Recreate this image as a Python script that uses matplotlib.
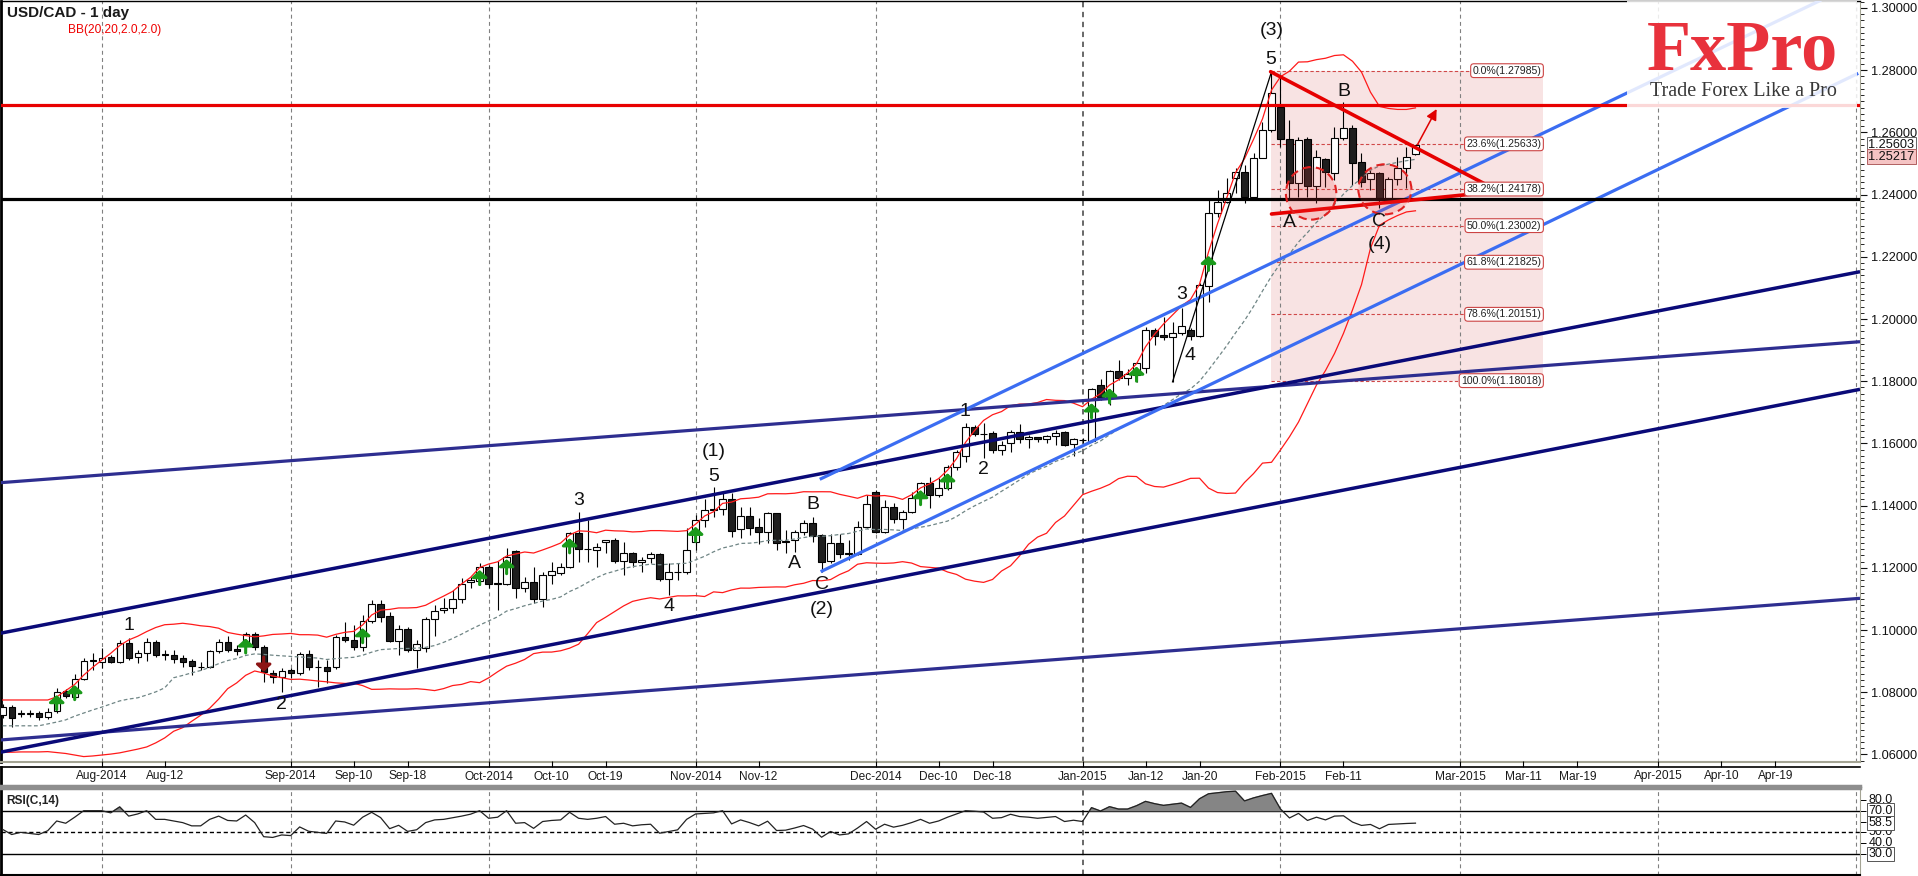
import numpy as np
import pandas as pd
import matplotlib
matplotlib.use("Agg")
import matplotlib.pyplot as plt
import matplotlib.transforms as mtransforms
from matplotlib.patches import Rectangle, Ellipse
from matplotlib.ticker import FormatStrFormatter, FixedLocator

plt.rcParams['font.family'] = ['Liberation Sans', 'DejaVu Sans']

# ---- data (daily bars, first bar 17 Jul 2014) ----
first_day = '2014-07-17'

opens = [1.0727, 1.0753, 1.0732, 1.0731, 1.0732, 1.0721, 1.0741, 1.0804, 1.0785, 1.0844,
         1.0902, 1.0898, 1.0914, 1.0898, 1.0957, 1.0912, 1.0925, 1.0962, 1.0922, 1.0920,
         1.0909, 1.0900, 1.0882, 1.0882, 1.0931, 1.0962, 1.0938, 1.0957, 1.0986, 1.0945,
         1.0861, 1.0850, 1.0871, 1.0861, 1.0922, 1.0882, 1.0880, 1.0880, 1.0976, 1.0968,
         1.0945, 1.1030, 1.1083, 1.1045, 1.0965, 1.1002, 1.0936, 1.0942, 1.1035, 1.1065,
         1.1070, 1.1099, 1.1154, 1.1156, 1.1202, 1.1150, 1.1149, 1.1254, 1.1136, 1.1153,
         1.1099, 1.1177, 1.1184, 1.1202, 1.1311, 1.1260, 1.1257, 1.1282, 1.1289, 1.1223,
         1.1247, 1.1218, 1.1231, 1.1244, 1.1163, 1.1187, 1.1187, 1.1282, 1.1354, 1.1388,
         1.1388, 1.1420, 1.1324, 1.1367, 1.1330, 1.1314, 1.1375, 1.1287, 1.1289, 1.1314,
         1.1343, 1.1304, 1.1223, 1.1281, 1.1247, 1.1246, 1.1332, 1.1445, 1.1314, 1.1395,
         1.1358, 1.1380, 1.1423, 1.1474, 1.1433, 1.1458, 1.1523, 1.1559, 1.1652, 1.1631,
         1.1634, 1.1580, 1.1602, 1.1636, 1.1613, 1.1619, 1.1614, 1.1625, 1.1637, 1.1597,
         1.1611, 1.1609, 1.1787, 1.1750, 1.1833, 1.1811, 1.1819, 1.1844, 1.1964, 1.1948,
         1.1941, 1.1956, 1.1964, 1.1946, 1.2107, 1.2340, 1.2377, 1.2452, 1.2474, 1.2391,
         1.2519, 1.2608, 1.2683, 1.2578, 1.2436, 1.2578, 1.2429, 1.2515, 1.2471, 1.2581,
         1.2613, 1.2504, 1.2449, 1.2470, 1.2388, 1.2449, 1.2485, 1.2530]
highs = [1.0762, 1.0759, 1.0743, 1.0743, 1.0740, 1.0749, 1.0814, 1.0811, 1.0858, 1.0909,
         1.0926, 1.0942, 1.0920, 1.0968, 1.0974, 1.0936, 1.0974, 1.0968, 1.0936, 1.0936,
         1.0920, 1.0907, 1.0897, 1.0936, 1.0971, 1.0981, 1.0952, 1.0993, 1.0993, 1.0952,
         1.0871, 1.0877, 1.0877, 1.0929, 1.0936, 1.0903, 1.0903, 1.0984, 1.1026, 1.1016,
         1.1048, 1.1097, 1.1097, 1.1058, 1.1016, 1.1009, 1.0968, 1.1042, 1.1080, 1.1103,
         1.1129, 1.1167, 1.1171, 1.1216, 1.1210, 1.1222, 1.1264, 1.1257, 1.1171, 1.1204,
         1.1187, 1.1219, 1.1215, 1.1316, 1.1380, 1.1354, 1.1279, 1.1290, 1.1295, 1.1284,
         1.1252, 1.1236, 1.1252, 1.1248, 1.1216, 1.1215, 1.1327, 1.1370, 1.1420, 1.1461,
         1.1439, 1.1441, 1.1396, 1.1396, 1.1359, 1.1380, 1.1377, 1.1321, 1.1321, 1.1354,
         1.1364, 1.1309, 1.1309, 1.1309, 1.1289, 1.1350, 1.1434, 1.1450, 1.1418, 1.1407,
         1.1386, 1.1445, 1.1477, 1.1493, 1.1488, 1.1530, 1.1579, 1.1665, 1.1660, 1.1665,
         1.1641, 1.1608, 1.1643, 1.1661, 1.1627, 1.1621, 1.1627, 1.1643, 1.1641, 1.1616,
         1.1616, 1.1777, 1.1806, 1.1836, 1.1868, 1.1838, 1.1862, 1.1975, 1.1970, 1.2007,
         1.1991, 1.2034, 1.1970, 1.2115, 1.2383, 1.2415, 1.2453, 1.2486, 1.2495, 1.2533,
         1.2634, 1.2795, 1.2785, 1.2640, 1.2586, 1.2586, 1.2543, 1.2517, 1.2618, 1.2699,
         1.2624, 1.2533, 1.2479, 1.2474, 1.2457, 1.2522, 1.2554, 1.2560]
lows = [1.0717, 1.0688, 1.0721, 1.0720, 1.0710, 1.0713, 1.0732, 1.0782, 1.0778, 1.0839,
        1.0871, 1.0877, 1.0893, 1.0893, 1.0903, 1.0893, 1.0900, 1.0913, 1.0903, 1.0893,
        1.0881, 1.0855, 1.0871, 1.0877, 1.0926, 1.0929, 1.0920, 1.0942, 1.0936, 1.0833,
        1.0829, 1.0800, 1.0845, 1.0855, 1.0871, 1.0816, 1.0829, 1.0874, 1.0961, 1.0936,
        1.0932, 1.1023, 1.1026, 1.0961, 1.0920, 1.0929, 1.0877, 1.0929, 1.0981, 1.1055,
        1.1055, 1.1087, 1.1135, 1.1145, 1.1135, 1.1064, 1.1145, 1.1103, 1.1123, 1.1087,
        1.1075, 1.1149, 1.1177, 1.1199, 1.1220, 1.1220, 1.1204, 1.1247, 1.1215, 1.1177,
        1.1204, 1.1187, 1.1217, 1.1158, 1.1111, 1.1161, 1.1180, 1.1257, 1.1332, 1.1364,
        1.1370, 1.1300, 1.1295, 1.1305, 1.1277, 1.1279, 1.1257, 1.1247, 1.1252, 1.1305,
        1.1284, 1.1188, 1.1215, 1.1230, 1.1225, 1.1241, 1.1327, 1.1311, 1.1311, 1.1343,
        1.1325, 1.1376, 1.1418, 1.1391, 1.1429, 1.1450, 1.1516, 1.1541, 1.1624, 1.1553,
        1.1568, 1.1563, 1.1573, 1.1600, 1.1584, 1.1605, 1.1600, 1.1595, 1.1592, 1.1559,
        1.1600, 1.1605, 1.1740, 1.1723, 1.1804, 1.1788, 1.1798, 1.1825, 1.1917, 1.1933,
        1.1798, 1.1949, 1.1933, 1.1943, 1.2056, 1.2329, 1.2373, 1.2405, 1.2373, 1.2388,
        1.2517, 1.2602, 1.2554, 1.2383, 1.2393, 1.2393, 1.2372, 1.2426, 1.2447, 1.2576,
        1.2431, 1.2426, 1.2415, 1.2356, 1.2372, 1.2431, 1.2420, 1.2527]
closes = [1.0753, 1.0716, 1.0731, 1.0732, 1.0721, 1.0737, 1.0801, 1.0788, 1.0844, 1.0901,
          1.0900, 1.0909, 1.0898, 1.0957, 1.0909, 1.0925, 1.0962, 1.0920, 1.0921, 1.0907,
          1.0898, 1.0885, 1.0881, 1.0931, 1.0962, 1.0936, 1.0931, 1.0986, 1.0945, 1.0866,
          1.0850, 1.0869, 1.0861, 1.0923, 1.0882, 1.0881, 1.0869, 1.0976, 1.0968, 1.0945,
          1.1030, 1.1083, 1.1043, 1.0965, 1.1002, 1.0936, 1.0955, 1.1035, 1.1062, 1.1072,
          1.1099, 1.1148, 1.1161, 1.1204, 1.1148, 1.1149, 1.1236, 1.1136, 1.1153, 1.1099,
          1.1177, 1.1190, 1.1202, 1.1311, 1.1259, 1.1259, 1.1266, 1.1289, 1.1223, 1.1247,
          1.1218, 1.1225, 1.1244, 1.1163, 1.1185, 1.1188, 1.1257, 1.1354, 1.1386, 1.1387,
          1.1420, 1.1319, 1.1367, 1.1329, 1.1314, 1.1375, 1.1279, 1.1282, 1.1314, 1.1343,
          1.1303, 1.1220, 1.1281, 1.1243, 1.1246, 1.1332, 1.1404, 1.1314, 1.1395, 1.1358,
          1.1380, 1.1423, 1.1474, 1.1433, 1.1458, 1.1523, 1.1571, 1.1652, 1.1630, 1.1630,
          1.1580, 1.1594, 1.1636, 1.1613, 1.1621, 1.1613, 1.1624, 1.1635, 1.1596, 1.1614,
          1.1610, 1.1774, 1.1750, 1.1833, 1.1811, 1.1822, 1.1857, 1.1964, 1.1946, 1.1941,
          1.1956, 1.1977, 1.1946, 1.2109, 1.2340, 1.2377, 1.2406, 1.2474, 1.2391, 1.2519,
          1.2608, 1.2726, 1.2578, 1.2436, 1.2576, 1.2429, 1.2520, 1.2472, 1.2581, 1.2613,
          1.2503, 1.2441, 1.2470, 1.2388, 1.2449, 1.2485, 1.2522, 1.2560]

# Bollinger band values at the left edge (before 20 bars of history are on screen)
bb_upper_early = [1.0775, 1.0775, 1.0775, 1.0775, 1.0775, 1.0775, 1.0785, 1.0805, 1.0825, 1.0855,
                  1.0880, 1.0903, 1.0925, 1.0950, 1.0968, 1.0980, 1.0995, 1.1008, 1.1017]
bb_mid_early = [1.0692, 1.0692, 1.0692, 1.0692, 1.0692, 1.0698, 1.0704, 1.0711, 1.0723, 1.0733,
                1.0743, 1.0752, 1.0762, 1.0772, 1.0778, 1.0782, 1.0791, 1.0801, 1.0814]
bb_lower_early = [1.0607, 1.0607, 1.0608, 1.0608, 1.0608, 1.0609, 1.0606, 1.0603, 1.0598, 1.0593,
                  1.0595, 1.0598, 1.0601, 1.0605, 1.0611, 1.0617, 1.0624, 1.0637, 1.0653]

rsi = [52.7, 48, 50, 49, 48, 51.5, 60.5, 58.4, 64, 70, 70, 70, 68, 73.5, 65, 67, 70, 62, 62, 60.5,
       59, 56, 56, 62, 65, 61, 60.5, 66, 59, 46, 45.3, 47.6, 47, 55, 51, 50, 49, 60.5, 59.6, 56.6,
       64, 68.5, 63.6, 53.4, 56.5, 50.9, 52.4, 59, 61.5, 62, 63.5, 65, 66.8, 70, 63, 64, 70, 58.4, 59, 53.7,
       60, 61, 61.5, 68.5, 63, 62, 63, 64.6, 57.5, 58.4, 56, 57, 57.5, 49.2, 50.8, 52.3, 62, 67, 67.5, 68,
       70, 57.8, 61.5, 59, 56, 60.3, 51.7, 52, 54, 56.3, 53, 45.5, 50.8, 47.6, 48.6, 54, 60, 52.9, 57.5, 54.8,
       56.5, 59, 62, 58.4, 60.5, 64, 67, 70, 69.5, 68.8, 63, 63.6, 66.7, 64.6, 64, 63, 63.8, 64.6, 60, 61.2,
       60, 72.8, 69.7, 73.7, 71.5, 71.5, 74.6, 78.6, 76.5, 74.9, 76, 77, 73, 81, 85.6, 86.5, 87.5, 88, 79, 81.8,
       84, 86, 71.5, 63.3, 67.5, 61, 64, 61.5, 65, 65.3, 59.5, 56.4, 57.3, 53.3, 57.3, 57.8, 58.2, 58.5]

# signal arrows: (bar, price of arrow tip)
buy_signals = [(6, 1.0791), (8, 1.0823), (27, 1.0973), (40, 1.1006), (53, 1.1193), (56, 1.1228),
               (63, 1.1295), (77, 1.1332), (102, 1.1450), (105, 1.1504), (121, 1.1729),
               (123, 1.1777), (126, 1.1847), (134, 1.2203)]
sell_signals = [(29, 1.0866)]

# drawn trend lines: ((bar, price), (bar, price))
navy_lines = [((-0.3, 1.09894), (206.4, 1.21521)), ((-0.3, 1.06068), (206.4, 1.17739))]
purple_lines = [((-0.3, 1.14736), (206.4, 1.19270)), ((-0.3, 1.06463), (206.4, 1.11019))]
blue_lines = [((90.8, 1.14846), (202.1, 1.30257)), ((90.9, 1.11875), (206.2, 1.27900))]
triangle_lines = [((140.9, 1.27952), (166.0, 1.24148)), ((141.0, 1.23376), (166.0, 1.24093))]
wave_line = ((130, 1.1798), (141, 1.2795))
red_level = 1.2688
black_level = 1.2385
target_arrow = ((157.1, 1.2554), (159.5, 1.2683))
circles = [(145.4, 1.2404, 5.6, 0.0169), (153.6, 1.2417, 5.9, 0.0161)]

fib_pct = [0.0, 23.6, 38.2, 50.0, 61.8, 78.6, 100.0]
fib_price = [1.27985, 1.25633, 1.24178, 1.23002, 1.21825, 1.20151, 1.18018]
fib_from, fib_to = 140.9, 171.2

wave_labels = [(14.0, 1.1016, '1'), (31.0, 1.0759, '2'), (64.0, 1.1418, '3'), (74.0, 1.1075, '4'),
               (79.0, 1.1573, '(1)'), (79.0, 1.1495, '5'), (88.0, 1.1215, 'A'), (90.0, 1.1402, 'B'),
               (91.0, 1.1145, 'C'), (91.0, 1.1067, '(2)'), (106.9, 1.1702, '1'), (109.0, 1.1515, '2'),
               (131.0, 1.2080, '3'), (131.9, 1.1884, '4'), (140.9, 1.2833, '5'), (141.0, 1.2929, '(3)'),
               (149.0, 1.2731, 'B'), (143.0, 1.2310, 'A'), (153.0, 1.2313, 'C'), (153.0, 1.2241, '(4)')]

date_labels = ['Aug-2014', 'Aug-12', 'Sep-2014', 'Sep-10', 'Sep-18', 'Oct-2014', 'Oct-10', 'Oct-19',
               'Nov-2014', 'Nov-12', 'Dec-2014', 'Dec-10', 'Dec-18', 'Jan-2015', 'Jan-12', 'Jan-20',
               'Feb-2015', 'Feb-11', 'Mar-2015', 'Mar-11', 'Mar-19', 'Apr-2015', 'Apr-10', 'Apr-19']
date_values = ['2014-08-01', '2014-08-12', '2014-09-01', '2014-09-10', '2014-09-18', '2014-10-01',
               '2014-10-10', '2014-10-19', '2014-11-01', '2014-11-12', '2014-12-01', '2014-12-10',
               '2014-12-18', '2015-01-01', '2015-01-12', '2015-01-20', '2015-02-01', '2015-02-11',
               '2015-03-01', '2015-03-11', '2015-03-19', '2015-04-01', '2015-04-10', '2015-04-19']
month_lines = ['2014-08-01', '2014-09-01', '2014-10-01', '2014-11-01', '2014-12-01', '2015-01-01',
               '2015-02-01', '2015-03-01', '2015-04-01', '2015-05-01']

# ---- figure layout (pixel based) ----
W, H = 1918, 876
fig = plt.figure(figsize=(W / 100, H / 100), dpi=100)


def fx(px):
    return px / W


def fy(py):
    return 1 - py / H


ax = fig.add_axes([fx(1), fy(762), fx(1860) - fx(1), fy(1) - fy(762)])
ax_d = fig.add_axes([fx(1), fy(786), fx(1860) - fx(1), fy(767) - fy(786)])
ax_r = fig.add_axes([fx(1), fy(875), fx(1860) - fx(1), fy(788) - fy(875)])

cal = pd.bdate_range(first_day, periods=240)


def bar_of(d):
    return int(cal.searchsorted(pd.Timestamp(d)))


xlim = (-0.19, 206.4)
for a in (ax, ax_d, ax_r):
    a.set_xlim(*xlim)
    a.set_xticks([])
ax.set_ylim(1.05756, 1.30225)
ax_r.set_ylim(10.6, 90.97)

# month grid lines
for d in month_lines:
    p = bar_of(d)
    col = '#404040' if d == '2015-01-01' else '#808080'
    lw = 1.1 if d == '2015-01-01' else 0.8
    for a in (ax, ax_r):
        a.axvline(p, color=col, lw=lw, ls=(0, (3.5, 3)), zorder=1)

# fibonacci block
ax.add_patch(Rectangle((fib_from, fib_price[-1]), fib_to - fib_from, fib_price[0] - fib_price[-1],
                       fc='#f8e3e3', ec='none', zorder=0.5))
for pct, pr in zip(fib_pct, fib_price):
    ax.plot([fib_from, fib_to - 2], [pr, pr], color='#d04848', lw=0.8, ls=(0, (3, 2)), zorder=1.5)
    ax.text(fib_to - 0.2, pr, f'{pct:.1f}%({pr:.5f})', ha='right', va='center', fontsize=7.6,
            color='#222222', zorder=7,
            bbox=dict(boxstyle='round,pad=0.18,rounding_size=0.3', fc='white', ec='#cc4444', lw=0.8))

# trend lines
for (x0, y0), (x1, y1) in purple_lines:
    ax.plot([x0, x1], [y0, y1], color='#2e2e90', lw=2.3, zorder=5, solid_capstyle='butt')
for (x0, y0), (x1, y1) in navy_lines:
    ax.plot([x0, x1], [y0, y1], color='#0a0a78', lw=2.5, zorder=5, solid_capstyle='butt')
for (x0, y0), (x1, y1) in blue_lines:
    ax.plot([x0, x1], [y0, y1], color='#3b6df2', lw=2.3, zorder=5, solid_capstyle='butt')
ax.axhline(red_level, color='#e80000', lw=2.3, zorder=5)
ax.axhline(black_level, color='black', lw=2.3, zorder=5)

# candles
x = np.arange(len(closes))
o, hi, lo, c = map(np.array, (opens, highs, lows, closes))
up = c >= o
ax.vlines(x, lo, hi, color='black', lw=0.8, zorder=3)
body_lo = np.minimum(o, c)
body_h = np.maximum(np.abs(c - o), 0.00006)
ax.bar(x[up], body_h[up], bottom=body_lo[up], width=0.7, color='white', edgecolor='black',
       lw=0.8, zorder=4)
ax.bar(x[~up], body_h[~up], bottom=body_lo[~up], width=0.7, color='#1e1e1e', edgecolor='black',
       lw=0.8, zorder=4)

# bollinger bands
s = pd.Series(closes)
mid = s.rolling(20).mean().to_numpy()
sd = s.rolling(20).std(ddof=0).to_numpy()
upper = mid + 2 * sd
lower = mid - 2 * sd
n0 = len(bb_mid_early)
mid[:n0] = bb_mid_early
upper[:n0] = bb_upper_early
lower[:n0] = bb_lower_early
ax.plot(x, upper, color='#ff1a1a', lw=0.9, zorder=4.5)
ax.plot(x, lower, color='#ff1a1a', lw=0.9, zorder=4.5)
ax.plot(x, mid, color='#6f8585', lw=0.9, ls=(0, (3, 2)), zorder=4.5)

# wave drawing line
ax.plot([wave_line[0][0], wave_line[1][0]], [wave_line[0][1], wave_line[1][1]],
        color='black', lw=0.9, zorder=5)

# red triangle and circles
for (x0, y0), (x1, y1) in triangle_lines:
    ax.plot([x0, x1], [y0, y1], color='#e60000', lw=2.6, zorder=6, solid_capstyle='round')
for cx, cy, w, h in circles:
    ax.add_patch(Ellipse((cx, cy), w, h, fc=(0.95, 0.25, 0.25, 0.18), ec='#e02020',
                         ls=(0, (4, 2.5)), lw=1.5, zorder=6))
ax.annotate('', xy=target_arrow[1], xytext=target_arrow[0],
            arrowprops=dict(arrowstyle='-|>', color='#e00000', lw=1.1, mutation_scale=16),
            zorder=6)

# signal arrows (head plus shaft)
arrow_style = '-|>,head_width=0.5,head_length=0.45'
for k, p in buy_signals:
    ax.annotate('', xy=(k, p), xytext=(0, -10.5), textcoords='offset points',
                arrowprops=dict(arrowstyle=arrow_style, color='#1b9a1b', lw=2.2,
                                mutation_scale=9, shrinkA=0, shrinkB=0), zorder=6)
for k, p in sell_signals:
    ax.annotate('', xy=(k, p), xytext=(0, 10.5), textcoords='offset points',
                arrowprops=dict(arrowstyle=arrow_style, color='#8c1414', lw=2.2,
                                mutation_scale=9, shrinkA=0, shrinkB=0), zorder=6)

# wave labels
for k, p, t in wave_labels:
    ax.text(k, p, t, ha='center', va='center', fontsize=14, color='#111111', zorder=7)

# logo backdrop
ax.add_patch(Rectangle(((1627 - 1) / 1859, 1 - 107 / 761), 230 / 1859, 107 / 761,
                       transform=ax.transAxes, fc='white', alpha=0.85, ec='none', zorder=8))

# price axis
ax.yaxis.tick_right()
ax.yaxis.set_major_locator(FixedLocator(np.arange(1.06, 1.3001, 0.02)))
ax.yaxis.set_minor_locator(FixedLocator(np.arange(1.058, 1.3021, 0.002)))
ax.yaxis.set_major_formatter(FormatStrFormatter('%.5f'))
ax.tick_params(axis='y', which='major', length=5, width=0.8, pad=3, labelsize=9.2, colors='#111111')
ax.tick_params(axis='y', which='minor', length=3, width=0.6)
blend = mtransforms.blended_transform_factory(ax.transAxes, ax.transData)
ax.text(1.0045, 1.25603, '1.25603', transform=blend, ha='left', va='center', fontsize=9.2,
        color='#111111', zorder=9,
        bbox=dict(boxstyle='square,pad=0.12', fc='white', ec='#666666', lw=0.7), clip_on=False)
ax.text(1.0045, 1.25217, '1.25217', transform=blend, ha='left', va='center', fontsize=9.2,
        color='#111111', zorder=9,
        bbox=dict(boxstyle='square,pad=0.12', fc='#f5c4c4', ec='#b06060', lw=0.7), clip_on=False)

for side in ('left', 'top'):
    ax.spines[side].set_color('black')
ax.spines['left'].set_linewidth(2)
ax.spines['top'].set_linewidth(1)
ax.spines['right'].set_color('#a4a494')
ax.spines['bottom'].set_color('#a4a494')
ax.spines['bottom'].set_linewidth(1.5)

# date strip
ax_d.set_ylim(0, 1)
ax_d.set_yticks([])
ax_d.spines['top'].set_linewidth(1.2)
ax_d.spines['bottom'].set_color('#8e8e8e')
ax_d.spines['bottom'].set_linewidth(2.5)
ax_d.spines['left'].set_linewidth(2)
ax_d.spines['right'].set_visible(False)
tick_pos = [bar_of(d) for d in date_values]
ax_d.xaxis.set_ticks_position('top')
ax_d.set_xticks(tick_pos)
ax_d.set_xticklabels([])
ax_d.tick_params(axis='x', which='major', direction='out', length=4, width=0.8, top=True,
                 bottom=False)
for p, lab in zip(tick_pos, date_labels):
    ax_d.text(p, 0.5, lab, ha='center', va='center', fontsize=8.6, color='#1a1a1a')

# RSI panel
xr = np.arange(len(rsi))
rv = np.array(rsi)
ax_r.axhline(70, color='black', lw=1.0, zorder=2)
ax_r.axhline(30, color='black', lw=1.0, zorder=2)
ax_r.axhline(50, color='black', lw=1.0, ls=(0, (3, 2)), zorder=2)
ax_r.fill_between(xr, rv, 70, where=rv > 70, interpolate=True, color='#858585', zorder=2.5)
ax_r.plot(xr, rv, color='#222222', lw=0.9, zorder=3)
ax_r.yaxis.tick_right()
ax_r.set_yticks([30, 40, 50, 60, 70, 80])
ax_r.set_yticklabels([])
ax_r.tick_params(axis='y', length=4, width=0.7)
blend_r = mtransforms.blended_transform_factory(ax_r.transAxes, ax_r.transData)
for val, boxed in [(80, False), (70, True), (58.5, True), (50, False), (40, False), (30, True)]:
    kw = dict(boxstyle='square,pad=0.1', fc='white', ec='#555555', lw=0.7) if boxed else None
    ax_r.text(1.0045, val, f'{val:.1f}', transform=blend_r, ha='left', va='center', fontsize=9,
              color='#111111', bbox=kw, clip_on=False, zorder=9 if boxed else 8)
ax_r.spines['top'].set_color('#8e8e8e')
ax_r.spines['top'].set_linewidth(2.5)
ax_r.spines['left'].set_linewidth(2)
ax_r.spines['bottom'].set_linewidth(1.5)
ax_r.spines['right'].set_color('#a4a494')

# texts
fig.text(fx(7), fy(12.5), 'USD/CAD - 1 day', ha='left', va='center', fontsize=11,
         weight='bold', color='#1a1a1a')
fig.text(fx(68), fy(30.5), 'BB(20,20,2.0,2.0)', ha='left', va='center', fontsize=8.6,
         color='#ee0000')
fig.text(fx(6), fy(801), 'RSI(C,14)', ha='left', va='center', fontsize=8.6, weight='bold',
         color='#222222')
fig.text(fx(1742), fy(70), 'FxPro', ha='center', va='baseline', fontsize=52, weight='bold',
         family='Liberation Serif', color='#e8323c')
fig.text(fx(1743.5), fy(96.5), 'Trade Forex Like a Pro', ha='center', va='baseline',
         fontsize=14.5, family='Liberation Serif', color='#383838')

fig.savefig('out.png', dpi=100)
